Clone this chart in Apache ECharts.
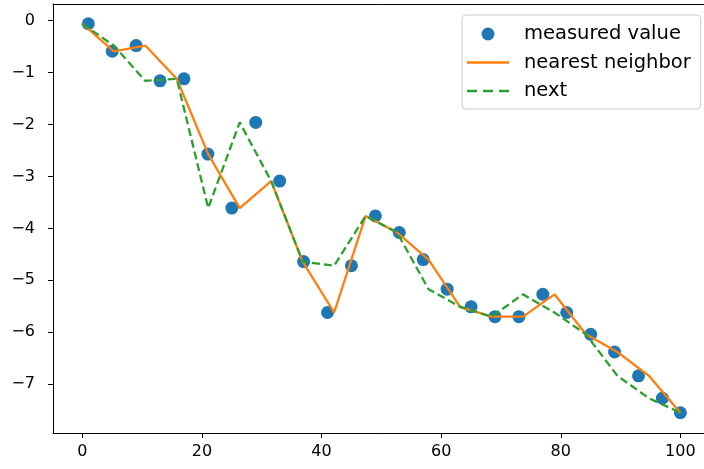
<!DOCTYPE html>
<html>
<head>
<meta charset="utf-8">
<script src="https://cdn.jsdelivr.net/npm/echarts@6/dist/echarts.min.js"></script>
<style>
html, body { margin: 0; padding: 0; background: #fff; }
#chart { width: 704px; height: 469px; }
</style>
</head>
<body>
<div id="chart"></div>
<script>
// measured points
var xMeasured = [1, 5, 9, 13, 17, 21, 25, 29, 33, 37, 41, 45, 49, 53, 57, 61, 65, 69, 73, 77, 81, 85, 89, 93, 97, 100];
var yMeasured = [-0.06, -0.59, -0.48, -1.16, -1.12, -2.57, -3.61, -1.96, -3.09, -4.64, -5.62, -4.72, -3.76,
                 -4.08, -4.60, -5.17, -5.51, -5.70, -5.70, -5.27, -5.62, -6.04, -6.38, -6.84, -7.27, -7.55];
// interpolation grid
var xNew = [0, 5.26, 10.53, 15.79, 21.05, 26.32, 31.58, 36.84, 42.11, 47.37,
            52.63, 57.89, 63.16, 68.42, 73.68, 78.95, 84.21, 89.47, 94.74, 100];
var yNearest = [-0.06, -0.59, -0.48, -1.12, -2.57, -3.61, -3.09, -4.64, -5.62, -3.76,
                -4.08, -4.60, -5.51, -5.70, -5.70, -5.27, -6.04, -6.38, -6.84, -7.55];
var yNext = [-0.06, -0.48, -1.16, -1.12, -3.61, -1.96, -3.09, -4.64, -4.72, -3.76,
             -4.08, -5.17, -5.51, -5.70, -5.27, -5.62, -6.04, -6.84, -7.27, -7.55];
var xTicks = [0, 20, 40, 60, 80, 100];
var yTicks = [-7, -6, -5, -4, -3, -2, -1, 0];

function pairs(xs, ys) {
  return xs.map(function (x, i) { return [x, ys[i]]; });
}
function minus(v) {
  return String(v).replace('-', '\u2212');
}

// legend icons drawn like matplotlib handles (plain / dashed stroke)
var solidIcon = 'path://M0,0h0v13h0zM0,5.2h42v2.6h-42z';
var dashIcon = 'path://M0,0h0v13h0zM0,5.2h10v2.6h-10zM16,5.2h10v2.6h-10zM32,5.2h10v2.6h-10z';

var myChart = echarts.init(document.getElementById('chart'));
var option = {
  backgroundColor: '#fff',
  animation: false,
  textStyle: { fontFamily: 'DejaVu Sans' },
  grid: { left: 53, top: 4, width: 652, height: 429 },
  xAxis: [
    {
      type: 'value', min: -4.9, max: 103.95,
      splitLine: { show: false },
      axisLine: { onZero: false, lineStyle: { color: '#000', width: 1 } },
      axisTick: { customValues: xTicks, length: 5, lineStyle: { color: '#000' } },
      axisLabel: { customValues: xTicks, color: '#000', fontSize: 16, margin: 11, formatter: minus }
    },
    {
      // top spine only
      type: 'value', position: 'top', min: -4.9, max: 103.95,
      splitLine: { show: false },
      axisLine: { onZero: false, lineStyle: { color: '#000', width: 1 } },
      axisTick: { show: false },
      axisLabel: { show: false }
    }
  ],
  yAxis: {
    type: 'value', min: -7.94, max: 0.32,
    splitLine: { show: false },
    axisLine: { onZero: false, lineStyle: { color: '#000', width: 1 } },
    axisTick: { customValues: yTicks, length: 5, lineStyle: { color: '#000' } },
    axisLabel: { customValues: yTicks, color: '#000', fontSize: 16, margin: 18, formatter: minus }
  },
  legend: {
    orient: 'vertical',
    left: 462, top: 15,
    padding: [9, 10, 8, 5],
    itemWidth: 42, itemHeight: 13, itemGap: 8.5,
    backgroundColor: 'rgba(255,255,255,0.8)',
    borderColor: '#ccc', borderWidth: 1, borderRadius: 4,
    textStyle: { color: '#000', fontSize: 19.5, padding: [0, 0, 0, 10] },
    data: [
      { name: 'measured value', icon: 'circle' },
      { name: 'nearest neighbor', icon: solidIcon },
      { name: 'next', icon: dashIcon }
    ]
  },
  series: [
    {
      name: 'measured value', type: 'scatter',
      symbol: 'circle', symbolSize: 13,
      itemStyle: { color: '#1f77b4', opacity: 1 },
      data: pairs(xMeasured, yMeasured)
    },
    {
      name: 'nearest neighbor', type: 'line',
      symbol: 'none',
      lineStyle: { color: '#ff7f0e', width: 2.3 },
      itemStyle: { color: '#ff7f0e' },
      data: pairs(xNew, yNearest)
    },
    {
      name: 'next', type: 'line',
      symbol: 'none',
      lineStyle: { color: '#2ca02c', width: 2.3, type: [8, 4] },
      itemStyle: { color: '#2ca02c' },
      data: pairs(xNew, yNext)
    }
  ]
};
myChart.setOption(option);
</script>
</body>
</html>
